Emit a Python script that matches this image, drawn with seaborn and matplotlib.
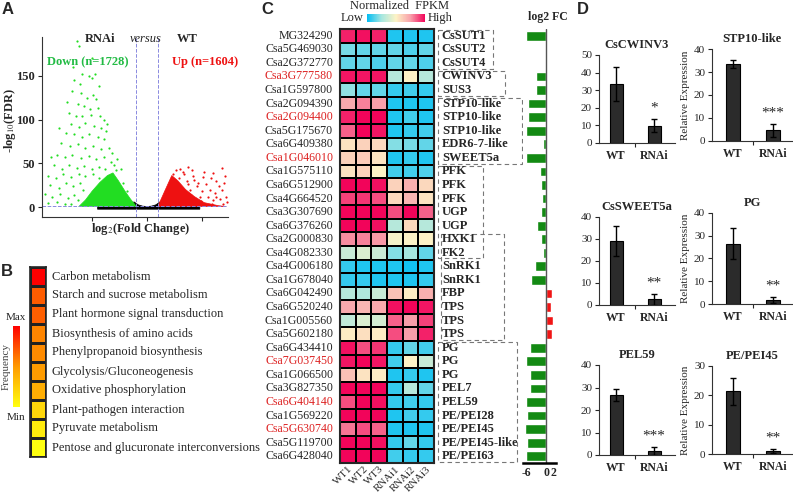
import matplotlib
matplotlib.use("Agg")
import matplotlib.pyplot as plt
import seaborn as sns
import pandas as pd
from matplotlib.colors import LinearSegmentedColormap
from matplotlib.patches import Rectangle

# ---------------- A: volcano, RNAi versus WT ----------------
# scattered points (log2 FC, -log10 FDR)
down_fc = [-6.4, -6.2, -5.9, -6.6, -6.1, -5.3, -5.0, -4.7, -6.8, -6.0, -5.5, -4.9, -4.6, -6.3, -5.7,
           -5.2, -4.5, -7.1, -6.5, -5.9, -5.1, -4.3, -3.9, -6.9, -6.2, -5.6, -4.8, -4.2, -3.7, -7.4,
           -6.6, -5.9, -5.3, -4.5, -3.9, -7.8, -7.0, -6.3, -5.6, -4.9, -4.2, -3.5, -3.2, -8.2, -7.5,
           -6.8, -6.0, -5.3, -4.6, -3.9, -3.3, -8.5, -7.7, -7.1, -6.4, -5.7, -5.0, -4.4, -3.8, -3.0,
           -2.8, -9.0, -8.3, -7.6, -6.9, -6.2, -5.6, -4.9, -4.4, -8.8, -8.0, -7.4, -6.7, -6.1, -5.8,
           -9.3, -8.6, -7.9, -7.2, -6.6, -6.3, -9.0, -8.2, -7.5, -6.9, -2.4, -2.7, -3.6, -5.0, -6.7,
           -4.4, -7.3, -8.0, -2.9, -2.2, -1.8, -8.7]
down_fdr = [190, 184, 152, 145, 141, 150, 147, 152, 133, 130, 125, 128, 124, 118, 116,
            112, 113, 108, 104, 104, 105, 104, 100, 95, 92, 96, 93, 90, 87, 85,
            84, 80, 84, 80, 78, 73, 70, 72, 68, 70, 66, 67, 62, 60, 57,
            60, 56, 58, 55, 57, 52, 48, 44, 48, 45, 47, 43, 46, 44, 48,
            42, 36, 33, 38, 34, 38, 35, 38, 33, 25, 22, 27, 24, 28, 20,
            15, 12, 15, 10, 14, 8, 5, 6, 4, 3, 44, 55, 95, 170, 160,
            138, 120, 90, 30, 28, 18, 57]
up_fc = [2.6, 2.4, 3.75, 6.8, 5.1, 6.0, 2.9, 3.3, 3.6, 4.2, 4.6, 5.4, 6.3, 7.0, 2.7,
         3.2, 3.9, 4.5, 5.0, 5.7, 6.2, 6.8, 7.2, 4.0, 4.8, 5.5, 6.0, 6.6, 7.3, 3.4,
         2.5, 4.3, 5.8, 6.5, 5.2, 3.0, 7.1, 4.9, 5.9, 6.9, 6.3, 3.7, 2.2, 1.9, 4.1]
up_fdr = [42, 38, 46, 45, 34, 39, 33, 40, 30, 36, 28, 26, 30, 28, 27,
          22, 20, 24, 18, 20, 16, 19, 12, 14, 12, 11, 8, 9, 6, 38,
          31, 31, 33, 24, 40, 44, 35, 7, 4, 3, 12, 26, 22, 15, 42]
# outlines of the solid, over-plotted cores
down_core_fc = [-6.2, -5.6, -5.0, -4.3, -3.6, -3.1, -2.6, -2.0, -1.5, -1.05, -1.05]
down_core_fdr = [0.5, 8, 18, 28, 36, 39, 30, 18, 9, 2, 0.5]
up_core_fc = [1.05, 1.05, 1.6, 2.25, 2.8, 3.5, 4.3, 5.2, 6.5, 7.2]
up_core_fdr = [0.5, 2.5, 18, 36, 30, 20, 12, 5, 1.5, 0.5]
ns_core_fc = [-4.5, 4.8, 4.8, 1.3, 1.2, 0.8, 0.4, 0.0, -0.4, -0.8, -1.2, -1.3, -4.5]
ns_core_fdr = [-2.5, -2.5, 0.8, 1.5, 6, 2.5, 1.0, 0.6, 1.0, 2.5, 6, 1.5, 0.8]

# ---------------- B: enriched KEGG pathways ----------------
pathways = ["Carbon metabolism", "Starch and sucrose metabolism", "Plant hormone signal transduction",
            "Biosynthesis of amino acids", "Phenylpropanoid biosynthesis", "Glycolysis/Gluconeogenesis",
            "Oxidative phosphorylation", "Plant-pathogen interaction", "Pyruvate metabolism",
            "Pentose and glucuronate interconversions"]
pathway_freq = [1.0, 0.70, 0.69, 0.57, 0.55, 0.49, 0.40, 0.20, 0.10, 0.0]

# ---------------- C: normalized FPKM heatmap + log2 FC ----------------
gene_ids = ["MG324290", "Csa5G469030", "Csa2G372770", "Csa3G777580", "Csa1G597800", "Csa2G094390",
            "Csa2G094400", "Csa5G175670", "Csa6G409380", "Csa1G046010", "Csa1G575110", "Csa6G512900",
            "Csa4G664520", "Csa3G307690", "Csa6G376260", "Csa2G000830", "Csa4G082330", "Csa4G006180",
            "Csa1G678040", "Csa6G042490", "Csa6G520240", "Csa1G005560", "Csa5G602180", "Csa6G434410",
            "Csa7G037450", "Csa1G066500", "Csa3G827350", "Csa6G404140", "Csa1G569220", "Csa5G630740",
            "Csa5G119700", "Csa6G428040"]
gene_names = ["CsSUT1", "CsSUT2", "CsSUT4", "CWINV3", "SUS3", "STP10-like", "STP10-like", "STP10-like",
              "EDR6-7-like", "SWEET5a", "PFK", "PFK", "PFK", "UGP", "UGP", "HXK1", "FK2", "SnRK1", "SnRK1",
              "FBP", "TPS", "TPS", "TPS", "PG", "PG", "PG", "PEL7", "PEL59", "PE/PEI28", "PE/PEI45",
              "PE/PEI45-like", "PE/PEI63"]
red_ids = ["Csa3G777580", "Csa2G094400", "Csa1G046010", "Csa7G037450", "Csa6G404140", "Csa5G630740"]
samples = ["WT1", "WT2", "WT3", "RNAi1", "RNAi2", "RNAi3"]
wt1 = [0.95, 0.18, 0.15, 0.97, 0.22, 0.72, 0.95, 0.85, 0.55, 0.6, 0.55, 1, 0.9, 1, 1, 0.78,
       0.35, 0.08, 0.08, 0.3, 0.72, 0.33, 0.52, 0.98, 0.97, 0.65, 1, 0.88, 1, 0.82, 1, 1]
wt2 = [0.98, 0.15, 0.15, 0.97, 0.15, 0.8, 1, 1, 0.6, 0.62, 0.6, 1, 0.92, 1, 1, 0.8,
       0.4, 0.05, 0.08, 0.28, 0.68, 0.4, 0.56, 0.88, 1, 0.55, 1, 1, 1, 0.88, 1, 1]
wt3 = [0.95, 0.15, 0.12, 0.97, 0.15, 0.75, 1, 0.97, 0.58, 0.55, 0.5, 0.98, 0.88, 1, 0.98, 0.76,
       0.35, 0.05, 0.05, 0.35, 0.72, 0.38, 0.52, 0.92, 0.97, 0.52, 1, 0.98, 1, 0.85, 0.98, 1]
rnai1 = [0.05, 0.15, 0.15, 0.3, 0.08, 0.05, 0.05, 0.05, 0.2, 0.05, 0.1, 0.6, 0.58, 0.88, 0.3, 0.48,
         0.2, 0.05, 0.05, 0.65, 0.98, 0.85, 0.88, 0.08, 0.1, 0.05, 0.08, 0.08, 0.05, 0.05, 0.08, 0.1]
rnai2 = [0.05, 0.12, 0.15, 0.5, 0.1, 0.05, 0.1, 0.08, 0.18, 0.08, 0.1, 0.7, 0.68, 1, 0.58, 0.5,
         0.25, 0.03, 0.05, 0.52, 1, 0.75, 0.75, 0.15, 0.5, 0.08, 0.3, 0.1, 0.1, 0.05, 0.15, 0.08]
rnai3 = [0.05, 0.15, 0.12, 0.3, 0.08, 0.05, 0.05, 0.1, 0.15, 0.05, 0.12, 0.58, 0.55, 0.85, 0.3, 0.5,
         0.15, 0.05, 0.08, 0.7, 0.97, 0.9, 0.95, 0.1, 0.35, 0.05, 0.15, 0.08, 0.08, 0.05, 0.08, 0.08]
log2fc = [-6.0, 0, 0, -3.2, -3.2, -5.5, -5.5, -6.0, -1.0, -6.0, -2.0, -1.7, -1.3, -1.7, -2.8, -1.7,
          -1.0, -3.5, -4.5, 1.8, 1.5, 2.0, 1.8, -4.8, -6.0, -4.8, -4.8, -6.0, -5.7, -6.3, -5.7, -6.0]

# ---------------- D: qRT-PCR ----------------
expr_genes = ["CsCWINV3", "STP10-like", "CsSWEET5a", "PG", "PEL59", "PE/PEI45"]
expr_groups = ["WT", "RNAi"]
wt_mean = [33.2, 33.4, 29.2, 26.5, 26.6, 21.4]
wt_err = [9.7, 1.8, 6.8, 6.8, 2.6, 4.6]
rnai_mean = [9.6, 4.5, 2.6, 1.6, 1.9, 1.1]
rnai_err = [3.7, 2.8, 2.4, 1.3, 1.7, 0.8]
stars = ["*", "***", "**", "**", "***", "**"]
y_max = [50, 40, 40, 40, 40, 30]

sns.set_style("ticks")
plt.rcParams['font.family'] = ['Liberation Serif', 'DejaVu Serif']
plt.rcParams['mathtext.fontset'] = 'stix'

W, H = 793, 495
fig = plt.figure(figsize=(W / 100, H / 100), dpi=100)


def px_axes(x0, y0, x1, y1):
    return fig.add_axes([x0 / W, 1 - y1 / H, (x1 - x0) / W, (y1 - y0) / H])


def px_text(x, y, s, **kw):
    kw.setdefault('ha', 'center')
    kw.setdefault('va', 'center')
    return fig.text(x / W, 1 - y / H, s, **kw)


for letter, x, y in [("A", 8, 9), ("B", 7, 272), ("C", 267, 9), ("D", 583, 9)]:
    px_text(x, y, letter, fontsize=12, fontweight='bold', family='Liberation Sans')

# ---- A
green, red = "#22dd22", "#ee1111"
axA = px_axes(42, 37, 228, 217)
axA.fill(ns_core_fc, ns_core_fdr, color="black", lw=0.5)
axA.fill(down_core_fc, down_core_fdr, color=green, lw=0.5, ec=green)
axA.fill(up_core_fc, up_core_fdr, color=red, lw=0.5, ec=red)
sns.scatterplot(x=down_fc, y=down_fdr, color=green, s=2.5, linewidth=0, ax=axA)
sns.scatterplot(x=up_fc, y=up_fdr, color=red, s=2.5, linewidth=0, ax=axA)
for v in (-1, 1):
    axA.axvline(v, color="#8a8ae0", ls="--", lw=0.7)
axA.axhline(1.3, color="#8a8ae0", ls="--", lw=0.7)
axA.set_xlim(-9.55, 7.36)
axA.set_ylim(-11.4, 194.3)
axA.set_xticks([-5, 0, 5])
axA.set_xticklabels([])
axA.set_yticks([0, 50, 100, 150])
axA.set_yticklabels(["0", "50", "100", "150"], fontweight='bold', fontsize=9)
axA.tick_params(length=3, width=0.8, pad=2)
sns.despine(ax=axA)
for s in axA.spines.values():
    s.set_color("#333333")
px_text(10, 120, "-log$_{10}$(FDR)", fontweight='bold', fontsize=9, rotation=90)
px_text(141, 229, "log$_{2}$(Fold Change)", fontweight='bold', fontsize=9)
px_text(100, 39, "RNAi", fontweight='bold', fontsize=9)
px_text(146, 39, "versus", style='italic', fontsize=9)
px_text(187, 39, "WT", fontweight='bold', fontsize=9)
px_text(88, 62, "Down (n=1728)", fontweight='bold', fontsize=9, color="#22bb44")
px_text(172, 62, "Up (n=1604)", fontweight='bold', fontsize=9, color=red, ha='left')

# ---- B
freq_cmap = LinearSegmentedColormap.from_list("freq", ["#ffff10", "#ff9a00", "#ff0000"])
axB = px_axes(30, 267, 46, 457)
caxB = px_axes(13, 326, 20, 407)
freq_df = pd.DataFrame({"freq": pathway_freq}, index=pathways)
sns.heatmap(freq_df, ax=axB, cmap=freq_cmap, vmin=0, vmax=1, linewidths=1, linecolor="#222222",
            cbar_ax=caxB, xticklabels=False, yticklabels=False)
axB.set_ylabel("")
for s in axB.spines.values():
    s.set_visible(True)
    s.set_linewidth(1.2)
for i, name in enumerate(pathways):
    axB.text(1.35, i + 0.5, name, ha='left', va='center', fontsize=9, clip_on=False)
axB.collections[0].colorbar.outline.set_visible(False)
caxB.set_yticks([])
px_text(16, 317, "Max", fontsize=8)
px_text(16, 417, "Min", fontsize=8)
px_text(6, 366, "Frequency", fontsize=8, rotation=90, color="#444444")

# ---- C
fpkm_cmap = LinearSegmentedColormap.from_list(
    "fpkm", ["#00bdf4", "#a5e6e0", "#fdf3c6", "#f8a0aa", "#f2045a"])
fpkm_df = pd.DataFrame({"WT1": wt1, "WT2": wt2, "WT3": wt3,
                        "RNAi1": rnai1, "RNAi2": rnai2, "RNAi3": rnai3}, index=gene_ids)[samples]
axC = px_axes(340, 29, 434, 463)
caxC = px_axes(367, 14, 425, 22)
sns.heatmap(fpkm_df, ax=axC, cmap=fpkm_cmap, vmin=0, vmax=1, linewidths=1.1, linecolor="black",
            cbar_ax=caxC, cbar_kws={"orientation": "horizontal"}, xticklabels=True, yticklabels=True)
for s in axC.spines.values():
    s.set_visible(True)
    s.set_linewidth(1.5)
axC.tick_params(length=0, pad=5)
axC.set_yticklabels(gene_ids, fontsize=8.6, rotation=0)
for lbl in axC.get_yticklabels():
    if lbl.get_text() in red_ids:
        lbl.set_color("#dd2222")
axC.set_xticklabels(samples, fontsize=7.8, rotation=45, ha='right', va='top', rotation_mode='anchor')
axC.tick_params(axis='x', pad=1)
for i, name in enumerate(gene_names):
    axC.text(6.5, i + 0.5, name, ha='left', va='center', fontsize=9, fontweight='bold', clip_on=False)
for r0, r1, x0, x1 in [(0, 3, 6.27, 9.76), (3, 5, 6.27, 10.53), (5, 10, 6.27, 11.6),
                       (10, 17, 6.27, 9.13), (15, 23, 6.42, 10.47), (23, 32, 6.27, 11.3)]:
    axC.add_patch(Rectangle((x0, r0 + 0.08), x1 - x0, r1 - r0 - 0.16, fill=False, ls=(0, (4, 3)),
                            ec="#777777", lw=0.8, clip_on=False))
axC.collections[0].colorbar.outline.set_visible(False)
caxC.set_xticks([])
px_text(400, 6, "Normalized  FPKM", fontsize=9)
px_text(352, 18, "Low", fontsize=9)
px_text(440, 18, "High", fontsize=9)

# log2 FC bars
fc_df = pd.DataFrame({"gene": gene_ids, "fc": log2fc,
                      "dir": ["up" if v > 0 else "down" for v in log2fc]})
axF = px_axes(523, 29, 556, 463)
sns.barplot(data=fc_df, x="fc", y="gene", hue="dir", order=gene_ids, orient='h', dodge=False,
            palette={"down": "#138a13", "up": "#f01515"}, width=0.72, errorbar=None,
            legend=False, saturation=1, ax=axF)
axF.axvline(0, color="#555555", lw=1)
axF.set_xlim(-7, 2.9)
axF.set_ylim(31.5, -0.5)
axF.set_yticks([])
axF.set_xlabel("")
axF.set_ylabel("")
axF.set_xticks([-6, 0, 2])
axF.set_xticklabels(["-6", "0", "2"], fontweight='bold', fontsize=8.5)
axF.tick_params(axis='x', length=0, pad=3)
sns.despine(ax=axF, left=True)
axF.spines['bottom'].set_linewidth(1.8)
axF.spines['bottom'].set_color("black")
px_text(548, 17, "log2 FC", fontweight='bold', fontsize=8.5)

# ---- D
d_boxes = [(599, 55, 675, 142.7), (712, 49.3, 792, 140.7),
           (599, 216.7, 675, 305), (712, 212.7, 792, 304),
           (599, 365, 675, 455), (712, 365.7, 792, 454.3)]
d_xlims = [(-0.45, 1.55), (-0.53, 1.48)]
for k, gene in enumerate(expr_genes):
    ax = px_axes(*d_boxes[k])
    means = [wt_mean[k], rnai_mean[k]]
    errs = [wt_err[k], rnai_err[k]]
    sns.barplot(x=expr_groups, y=means, color="#2b2b2b", edgecolor="black", linewidth=0.8,
                width=0.34, saturation=1, errorbar=None, ax=ax)
    ax.errorbar([0, 1], means, yerr=errs, fmt='none', ecolor="black", elinewidth=1, capsize=2.5,
                capthick=1)
    ax.text(1, rnai_mean[k] + rnai_err[k] + 0.05 * y_max[k], stars[k], ha='center',
            va='bottom', fontsize=11)
    ax.set_xlim(*d_xlims[k % 2])
    ax.set_ylim(0, y_max[k])
    ax.set_yticks(range(0, y_max[k] + 1, 10))
    ax.tick_params(axis='y', labelsize=8, length=3, width=0.8, pad=2)
    ax.tick_params(axis='x', length=0, pad=5)
    ax.set_xticks([0, 1])
    ax.set_xticklabels(expr_groups, fontweight='bold', fontsize=8.5)
    ax.set_xticks([0.5], minor=True)
    ax.tick_params(axis='x', which='minor', length=3, width=0.8)
    sns.despine(ax=ax)
    ax.spines['left'].set_color("#333333")
    ax.spines['bottom'].set_color("#333333")
    ax.set_title(gene, fontweight='bold', fontsize=9, pad=5)
    if k % 2 == 1:
        ax.set_ylabel("Relative Expression", fontsize=8, labelpad=3)

plt.savefig("out.png", dpi=100)
plt.close()
